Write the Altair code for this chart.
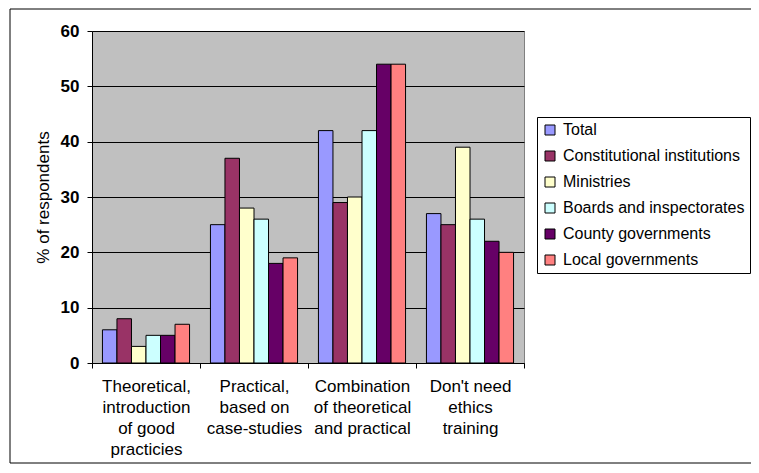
import altair as alt
import pandas as pd

categories = [
    "Theoretical,\nintroduction\nof good\npracticies",
    "Practical,\nbased on\ncase-studies",
    "Combination\nof theoretical\nand practical",
    "Don't need\nethics\ntraining",
]
series = [
    "Total",
    "Constitutional institutions",
    "Ministries",
    "Boards and inspectorates",
    "County governments",
    "Local governments",
]
total = [6, 25, 42, 27]
constitutional = [8, 37, 29, 25]
ministries = [3, 28, 30, 39]
boards = [5, 26, 42, 26]
county = [5, 18, 54, 22]
local = [7, 19, 54, 20]
colors = ["#9999FF", "#993366", "#FFFFCC", "#CCFFFF", "#660066", "#FF8080"]

values = [total, constitutional, ministries, boards, county, local]
rows = []
for s, vals in zip(series, values):
    for c, v in zip(categories, vals):
        rows.append({"category": c, "series": s, "value": v})
df = pd.DataFrame(rows)

FONT = "Liberation Sans"

bars = alt.Chart(df).mark_bar(stroke="black", strokeWidth=1).encode(
    x=alt.X(
        "category:N",
        sort=categories,
        scale=alt.Scale(paddingInner=0, paddingOuter=0),
        axis=alt.Axis(
            title=None,
            labelAngle=0,
            labelExpr="split(datum.label, '\\n')",
            labelLineHeight=21,
            labelFontSize=17,
            labelColor="black",
            labelPadding=10,
            tickBand="extent",
            tickSize=5,
            tickColor="black",
            domainColor="black",
            grid=False,
            labelBaseline="top",
        ),
    ),
    xOffset=alt.XOffset(
        "series:N", sort=series, scale=alt.Scale(paddingOuter=0.72, paddingInner=0)
    ),
    y=alt.Y(
        "value:Q",
        scale=alt.Scale(domain=[0, 60]),
        axis=alt.Axis(
            values=[0, 10, 20, 30, 40, 50, 60],
            title="% of respondents",
            titleFontSize=17,
            titleFontWeight="normal",
            titleColor="black",
            titlePadding=8,
            labelFontSize=17,
            labelFontWeight="bold",
            labelColor="black",
            labelPadding=8,
            tickSize=5,
            tickColor="black",
            domainColor="black",
            gridColor="black",
            gridOpacity=1,
        ),
    ),
    color=alt.Color(
        "series:N",
        sort=series,
        scale=alt.Scale(domain=series, range=colors),
        legend=alt.Legend(
            title=None,
            orient="none",
            legendX=445,
            legendY=86,
            strokeColor="black",
            fillColor="white",
            padding=5,
            labelFontSize=16,
            labelColor="black",
            labelLimit=400,
            labelOffset=5,
            symbolType="square",
            symbolSize=100,
            symbolStrokeColor="black",
            symbolStrokeWidth=1,
            symbolOpacity=1,
            rowPadding=10,
        ),
    ),
)

frame = alt.Chart(pd.DataFrame({"f": [0]})).mark_rect(
    fillOpacity=0, stroke="black", strokeWidth=1
).encode(
    x=alt.value(-82), x2=alt.value(664), y=alt.value(-22), y2=alt.value(432)
)

chart = (
    alt.layer(frame, bars)
    .properties(
        width=432,
        height=332,
        autosize=alt.AutoSizeParams(type="none"),
        padding={"left": 84, "top": 23, "right": 227, "bottom": 102},
    )
    .configure(font=FONT)
    .configure_view(fill="#C0C0C0", stroke="#808080")
)

chart.save("out.html", embed_options={"renderer": "svg", "actions": False})
